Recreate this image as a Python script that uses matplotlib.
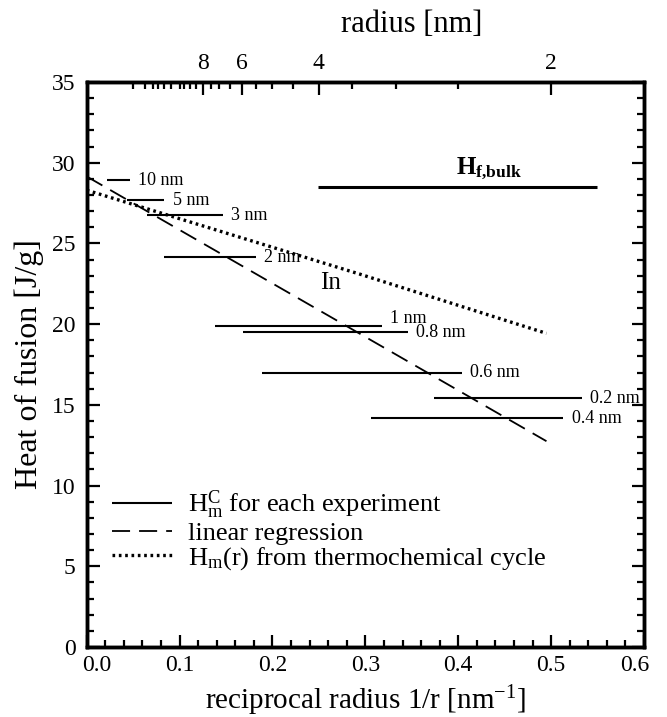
import numpy as np
import matplotlib
matplotlib.use("Agg")
import matplotlib.pyplot as plt
import matplotlib.transforms as mtransforms

plt.rcParams['font.family'] = ['Liberation Serif', 'DejaVu Serif']
plt.rcParams['mathtext.fontset'] = 'custom'
plt.rcParams['mathtext.rm'] = 'Liberation Serif'
plt.rcParams['mathtext.it'] = 'Liberation Serif:italic'
plt.rcParams['mathtext.bf'] = 'Liberation Serif:bold'

# experiments: 1/r range and heat of fusion
size_labels = ['10 nm', '5 nm', '3 nm', '2 nm', '1 nm', '0.8 nm', '0.6 nm', '0.2 nm', '0.4 nm']
inv_r_start = [0.0215, 0.043, 0.0646, 0.0835, 0.138, 0.168, 0.189, 0.374, 0.306]
inv_r_end = [0.0466, 0.0835, 0.1464, 0.182, 0.3176, 0.3455, 0.4037, 0.533, 0.513]
hm_c = [28.9, 27.67, 26.75, 24.16, 19.89, 19.5, 17.0, 15.41, 14.17]

# bulk value
bulk_x = [0.249, 0.549]
bulk_y = [28.48, 28.48]

# linear regression
reg_x = [0.0, 0.495]
reg_y = [29.15, 12.75]

# thermochemical cycle
cyc_x = [0.0, 0.294, 0.495]
cyc_y = [28.3, 23.1, 19.43]

radius_major = [2, 4, 6, 8]
radius_minor = [2.5, 3, 3.5, 4.5, 5, 5.5, 6.5, 7, 7.5, 8.5, 9, 9.5, 10, 11, 12, 13, 14, 16, 20]

fig = plt.figure(figsize=(6.67, 7.17), dpi=100)
ax = fig.add_axes([0.130, 0.0976, 0.8355, 0.788])

for i in range(len(size_labels)):
    ax.plot([inv_r_start[i], inv_r_end[i]], [hm_c[i], hm_c[i]], color='black', lw=1.5,
            solid_capstyle='butt', label=r'$\mathrm{H_m^C}$ for each experiment' if i == 0 else None)
    dy = 5 if size_labels[i] == '1 nm' else 0
    ax.annotate(size_labels[i], (inv_r_end[i], hm_c[i]), xytext=(6, dy), textcoords='offset points',
                ha='left', va='center', fontsize=13)

ax.plot(reg_x, reg_y, color='black', lw=1.3, linestyle=(0, (10, 5)), label='linear regression')
ax.plot(cyc_x, cyc_y, color='black', lw=2.4, linestyle=(0, (0.8, 1.1)),
        label=r'$\mathrm{H_m(r)}$ from thermochemical cycle')
ax.plot(bulk_x, bulk_y, color='black', lw=2.2, solid_capstyle='butt')
ax.text(0.398, 29.3, r'$\mathbf{H}_{\mathbf{f{,}bulk}}$', fontsize=18, ha='left', va='baseline')
ax.text(0.251, 22.55, 'In', fontsize=18, ha='left', va='center')

ax.set_xlim(0, 0.6)
ax.set_ylim(0, 35)
ax.set_xticks(np.arange(0, 0.61, 0.1))
ax.set_xticks(np.arange(0, 0.61, 0.02), minor=True)
ax.set_yticks(np.arange(0, 36, 5))
ax.set_yticks(np.arange(0, 36, 1), minor=True)
ax.set_xticklabels(['%.1f' % v for v in np.arange(0, 0.61, 0.1)])
ax.tick_params(which='both', direction='in', width=1.6, labelsize=17, right=True, top=False)
ax.tick_params(which='major', length=9)
ax.tick_params(which='minor', length=5)
ax.tick_params(axis='y', pad=8)
ax.tick_params(axis='x', pad=6)
for s in ax.spines.values():
    s.set_linewidth(2.5)

# shift first and last x tick labels inward
labs = ax.get_xticklabels()
labs[0].set_transform(labs[0].get_transform() + mtransforms.ScaledTranslation(10 / 100, 0, fig.dpi_scale_trans))
labs[-1].set_transform(labs[-1].get_transform() + mtransforms.ScaledTranslation(-9 / 100, 0, fig.dpi_scale_trans))

ax.set_xlabel(r'reciprocal radius 1/r [nm$^{\mathrm{-1}}$]', fontsize=21, labelpad=5)
ax.set_ylabel('Heat of fusion [J/g]', fontsize=23, labelpad=6)

top = ax.twiny()
top.set_xlim(ax.get_xlim())
top.set_xticks(1 / np.array(radius_major, dtype=float))
top.set_xticklabels([str(r) for r in radius_major])
top.set_xticks(1 / np.array(radius_minor, dtype=float), minor=True)
top.tick_params(which='both', direction='in', width=1.6, labelsize=17, pad=6)
top.tick_params(which='major', length=9)
top.tick_params(which='minor', length=5)
top.set_xlabel('radius [nm]', fontsize=22)
top.xaxis.set_label_coords(0.584, 1.088)
for s in top.spines.values():
    s.set_linewidth(2.5)

ax.legend(loc='lower left', bbox_to_anchor=(0.021, 0.11), frameon=False, fontsize=19,
          handlelength=2.3, handletextpad=0.6, labelspacing=0.0, borderpad=0)

fig.savefig('out.png', dpi=100)
